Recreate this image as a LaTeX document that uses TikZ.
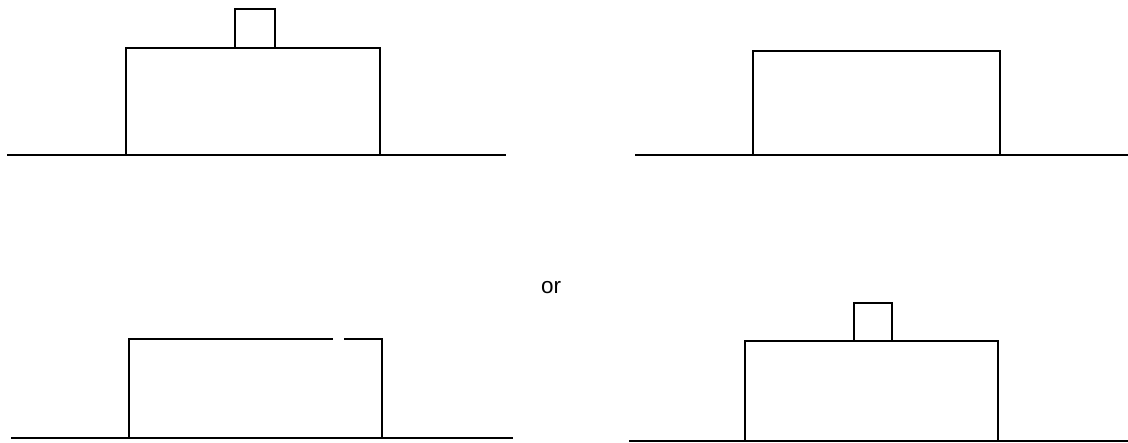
\documentclass[tikz,border=0pt]{standalone}
\usepackage{fontspec}
\setmainfont{Liberation Sans}
\usepackage{tikz}

\begin{document}
\begin{tikzpicture}[
    x = 0.025cm, y = -0.025cm,
    ground/.style = {line width=1.8pt},
    block/.style  = {line width=1.8pt, line join=miter},
    word/.style   = {font=\fontsize{16}{19}\selectfont, inner sep=0pt},
]
\useasboundingbox (0,0) rectangle (1128,442);

% top left: block with small box on top
\draw[ground] (7,155) -- (506,155);
\draw[block] (126,155) |- (380,48) -- (380,155);
\draw[block] (235,48) |- (275,9) -- (275,48);

% top right: bare block
\draw[ground] (635,155) -- (1128,155);
\draw[block] (753,155) |- (1000,51) -- (1000,155);

\node[word] (or) at (551,288) {or};

% bottom left: top edge broken
\draw[ground] (11,438) -- (513,438);
\draw[block] (129,438) |- (333,339);
\draw[block] (344,339) -| (382,438);

% bottom right: small box moved right
\draw[ground] (629,441) -- (1128,441);
\draw[block] (745,441) |- (998,341) -- (998,441);
\draw[block] (854,341) |- (892,303) -- (892,341);
\end{tikzpicture}
\end{document}
